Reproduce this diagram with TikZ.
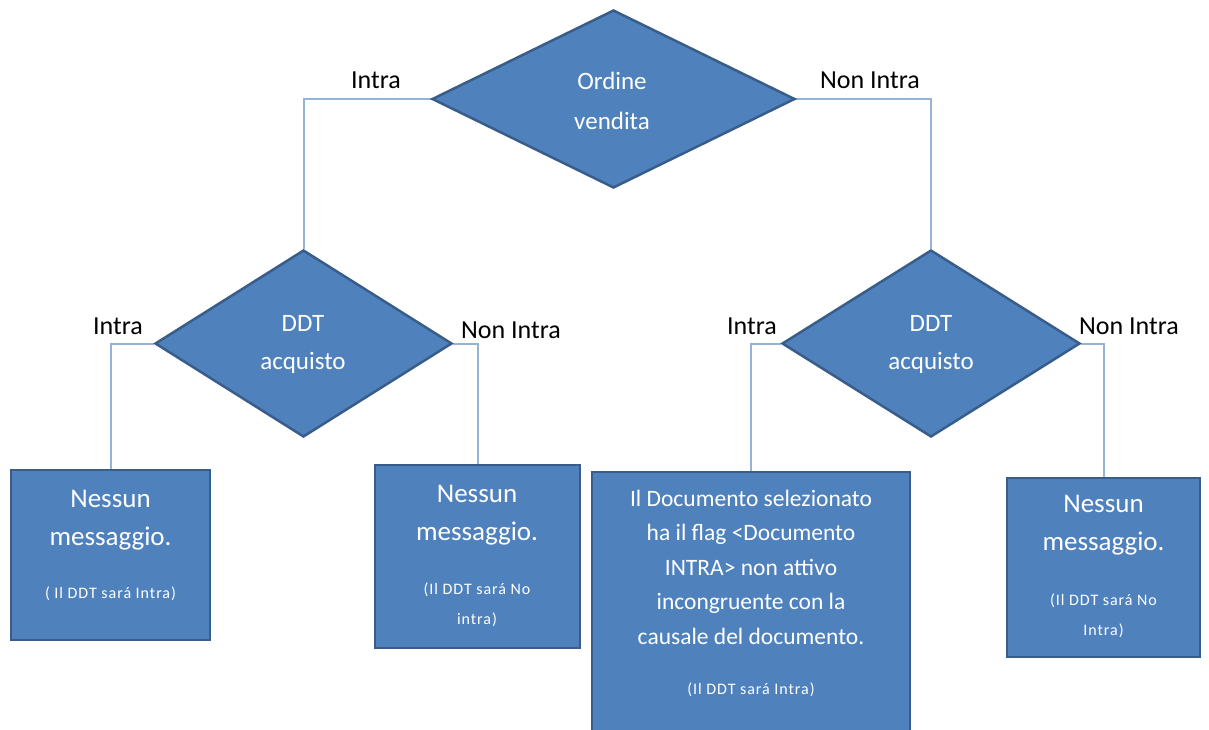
\documentclass[tikz,border=0pt]{standalone}
\usepackage{fontspec}
\setmainfont{Carlito}
\newfontfamily\spacedfont[LetterSpace=6]{Carlito}
\usetikzlibrary{shapes.geometric,backgrounds}
\definecolor{shapefill}{HTML}{4F81BD}
\definecolor{shapeline}{HTML}{385D8A}
\definecolor{connline}{HTML}{95B3D7}
\tikzset{
  decision/.style={diamond, aspect=2, inner sep=0pt, fill=shapefill, draw=shapeline, line width=2.5pt},
  resultbox/.style={rectangle, inner sep=0pt, fill=shapefill, draw=shapeline, line width=2.5pt},
  intext/.style={text=white, align=center, inner sep=0pt},
  conn/.style={draw=connline, line width=2pt},
  branch/.style={text=black, inner sep=0pt, font=\fontsize{26}{30}\selectfont}
}
\begin{document}
\begin{tikzpicture}[x=1pt,y=-1pt]
\useasboundingbox (0,0) rectangle (1209,730);
% decisions
\node[decision, minimum width=363pt, minimum height=178pt] (top) at (613.5,99) {};
\node[decision, minimum width=297pt, minimum height=187pt] (dl) at (303.5,343.5) {};
\node[decision, minimum width=298pt, minimum height=187pt] (dr) at (931,343.5) {};
\node[intext, font=\fontsize{25}{40}\selectfont] (toptext) at (612,101) {Ordine\\vendita};
\node[intext, font=\fontsize{25}{38}\selectfont] (dltext) at (303,344) {DDT\\acquisto};
\node[intext, font=\fontsize{25}{38}\selectfont] (drtext) at (931,344) {DDT\\acquisto};
% boxes
\node[resultbox, minimum width=199pt, minimum height=170pt] (b1) at (110.5,555) {};
\node[resultbox, minimum width=205pt, minimum height=183pt] (b2) at (477.5,556.5) {};
\node[resultbox, minimum width=318pt, minimum height=280pt] (b3) at (751,612) {};
\node[resultbox, minimum width=193pt, minimum height=179pt] (b4) at (1103.5,567.5) {};
% box texts
\node[intext, font=\fontsize{27}{38}\selectfont] (b1t) at (110.5,520) {Nessun\\messaggio.};
\node[intext, font=\spacedfont\fontsize{16}{30}\selectfont] (b1s) at (110.5,594) {( Il DDT sará Intra)};
\node[intext, font=\fontsize{27}{38}\selectfont] (b2t) at (477,515) {Nessun\\messaggio.};
\node[intext, font=\spacedfont\fontsize{16}{30}\selectfont] (b2s) at (477,605) {(Il DDT sará No\\intra)};
\node[intext, font=\fontsize{23.5}{34.5}\selectfont] (b3t) at (751,567) {Il Documento selezionato\\ha il flag <Documento\\INTRA> non attivo\\incongruente con la\\causale del documento.};
\node[intext, font=\spacedfont\fontsize{16}{30}\selectfont] (b3s) at (751,690) {(Il DDT sará Intra)};
\node[intext, font=\fontsize{27}{38}\selectfont] (b4t) at (1103.5,525) {Nessun\\messaggio.};
\node[intext, font=\spacedfont\fontsize{16}{30}\selectfont] (b4s) at (1103.5,616) {(Il DDT sará No\\Intra)};
% branch labels
\node[branch] (l1) at (376,80) {Intra};
\node[branch] (l2) at (870,80) {Non Intra};
\node[branch] (l3) at (118,326) {Intra};
\node[branch] (l4) at (511,330) {Non Intra};
\node[branch] (l5) at (752,326) {Intra};
\node[branch] (l6) at (1129,326) {Non Intra};
% connectors
\begin{scope}[on background layer]
\draw[conn] (top.west) -| (dl.north);
\draw[conn] (top.east) -| (dr.north);
\draw[conn] (dl.west) -| (b1.north);
\draw[conn] (dl.east) -| (b2.north);
\draw[conn] (dr.west) -| (b3.north);
\draw[conn] (dr.east) -| (b4.north);
\end{scope}
\end{tikzpicture}
\end{document}
